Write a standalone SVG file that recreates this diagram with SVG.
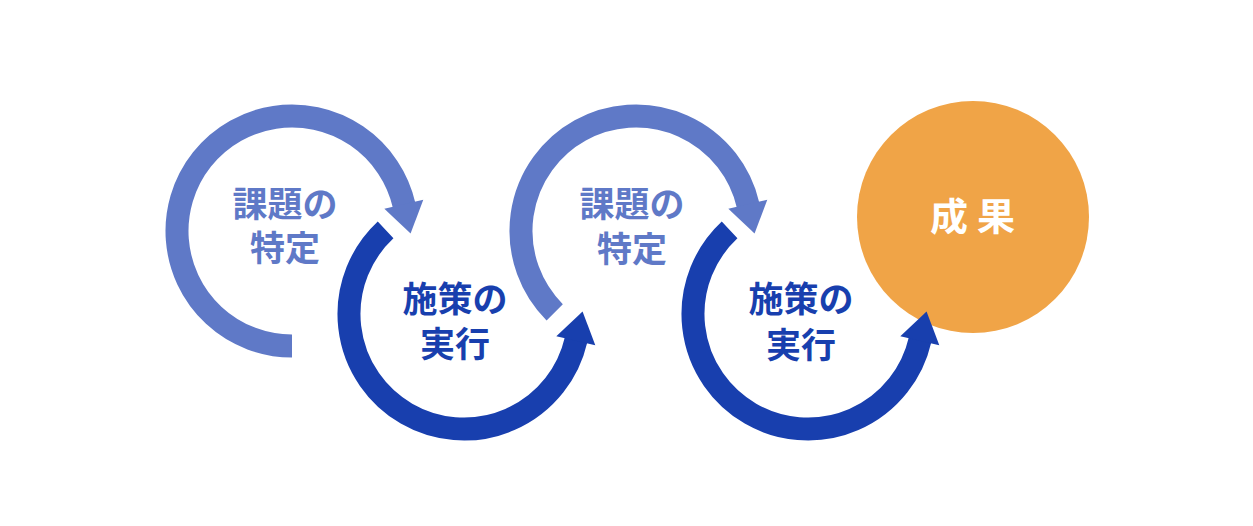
<svg xmlns="http://www.w3.org/2000/svg" width="1253" height="526" viewBox="0 0 1253 526">
  <style>
    .lbl { font-family: "Noto Sans CJK JP", "Noto Sans", sans-serif; font-weight: 700; font-size: 35px; text-anchor: middle; }
    .light { fill: #5f79c7; }
    .dark { fill: #183fae; }
    .arc { fill: none; stroke-width: 23; stroke-linecap: butt; }
    .arc-light { stroke: #5f79c7; marker-end: url(#headLight); }
    .arc-dark { stroke: #183fae; marker-end: url(#headDark); }
    .result { font-family: "Noto Sans CJK JP", "Noto Sans", sans-serif; font-weight: 700; font-size: 38px; text-anchor: middle; fill: #ffffff; letter-spacing: 9px; }
  </style>
  <defs>
    <marker id="headLight" markerUnits="userSpaceOnUse" viewBox="-2 -22 34 44" markerWidth="34" markerHeight="44" refX="0" refY="0" orient="auto" overflow="visible">
      <polygon points="-1,-20 29,0 -1,20" fill="#5f79c7"/>
    </marker>
    <marker id="headDark" markerUnits="userSpaceOnUse" viewBox="-2 -22 34 44" markerWidth="34" markerHeight="44" refX="0" refY="0" orient="auto" overflow="visible">
      <polygon points="-1,-20 29,0 -1,20" fill="#183fae"/>
    </marker>
  </defs>
  <rect width="1253" height="526" fill="#ffffff"/>

  <g id="node-issue-1">
    <text class="lbl light"><tspan x="285" y="217">課題の</tspan><tspan x="285" y="261">特定</tspan></text>
  </g>
  <g id="node-action-1">
    <text class="lbl dark"><tspan x="455" y="312">施策の</tspan><tspan x="455" y="357">実行</tspan></text>
  </g>
  <g id="node-issue-2">
    <text class="lbl light"><tspan x="632" y="217">課題の</tspan><tspan x="632" y="262">特定</tspan></text>
  </g>
  <g id="node-action-2">
    <text class="lbl dark"><tspan x="801" y="312">施策の</tspan><tspan x="801" y="358">実行</tspan></text>
  </g>
  <g id="node-result">
    <circle cx="973" cy="217" r="116" fill="#f0a447"/>
    <text class="result" x="977" y="230">成果</text>
  </g>

  <g id="connectors">
    <path class="arc arc-light" d="M292,346 A115,115 0 1 1 404.05,205.13"/>
    <path class="arc arc-dark" d="M385.6,229.9 A115,115 0 1 0 576.05,339.87"/>
    <path class="arc arc-light" d="M554.7,312.3 A115,115 0 1 1 748.05,205.13"/>
    <path class="arc arc-dark" d="M729.6,229.9 A115,115 0 1 0 920.05,339.87"/>
  </g>
</svg>
